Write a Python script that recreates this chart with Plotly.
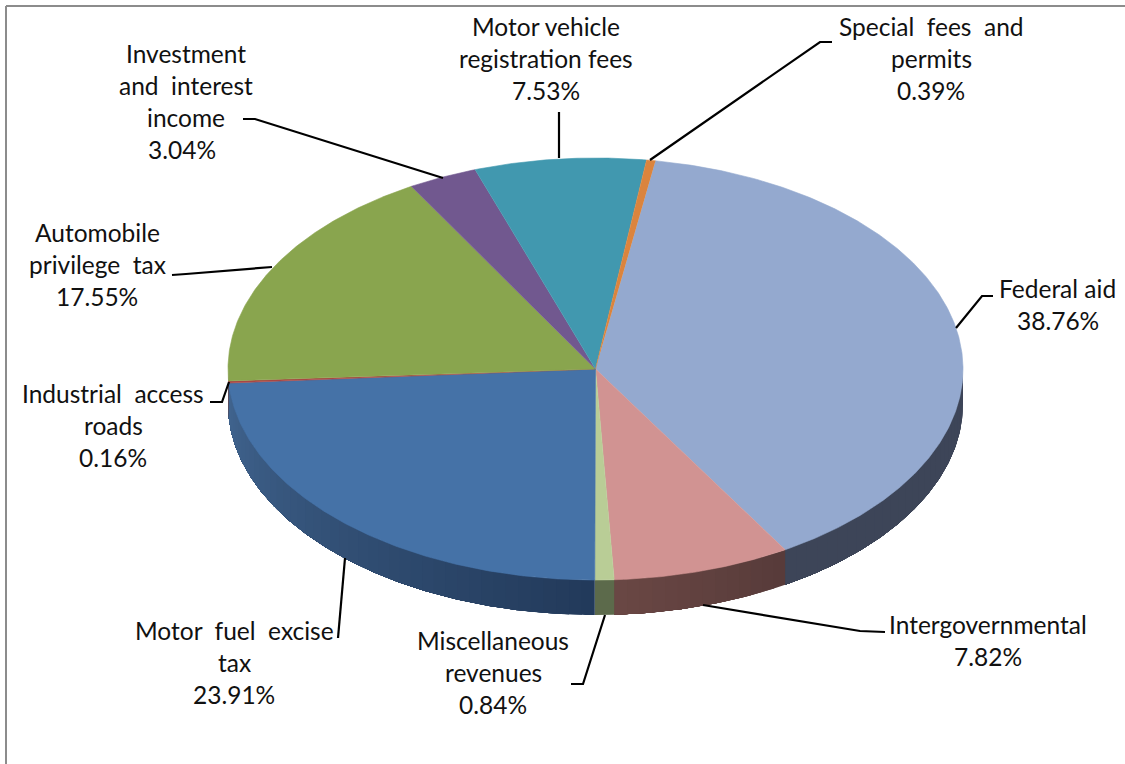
import math
import plotly.graph_objects as go

# ---- data ----
categories = ["Federal aid", "Intergovernmental", "Miscellaneous revenues", "Motor fuel excise tax",
              "Industrial access roads", "Automobile privilege tax", "Investment and interest income",
              "Motor vehicle registration fees", "Special fees and permits"]
values = [38.76, 7.82, 0.84, 23.91, 0.16, 17.55, 3.04, 7.53, 0.39]
percent_labels = ["38.76%", "7.82%", "0.84%", "23.91%", "0.16%", "17.55%", "3.04%", "7.53%", "0.39%"]
top_colors = ["#94A9CF", "#D19392", "#B9CD96", "#4572A7", "#AA4643", "#89A54E", "#71588F", "#4198AF", "#DB843D"]
# side colour at the slice start and end (clockwise)
side_start = ["#3D4558", "#573B3A", "#5C6A4B", "#223A5A", "#6B2E2C", "#6B4A50", "#4A3A5E", "#2A6372", "#8F5628"]
side_end = ["#3D4558", "#6A4744", "#5C6A4B", "#41648F", "#6B2E2C", "#6B4A50", "#4A3A5E", "#2A6372", "#8F5628"]

# label lines: text, x centre, y centre
label_lines = [
    ("Investment", 186, 54), ("and\u00a0\u00a0interest", 186, 86), ("income", 186, 118), ("3.04%", 182, 150),
    ("Motor vehicle", 546, 27), ("registration fees", 546, 59), ("7.53%", 546, 91),
    ("Special\u00a0\u00a0fees\u00a0\u00a0and", 931, 27), ("permits", 931, 59), ("0.39%", 931, 91),
    ("Federal aid", 1057, 289), ("38.76%", 1058, 321),
    ("Automobile", 97, 233), ("privilege\u00a0\u00a0tax", 97, 265), ("17.55%", 97, 297),
    ("Industrial\u00a0\u00a0access", 113, 394), ("roads", 113, 426), ("0.16%", 113, 458),
    ("Motor\u00a0\u00a0fuel\u00a0\u00a0excise", 234, 631), ("tax", 234, 663), ("23.91%", 234, 695),
    ("Miscellaneous", 493, 641), ("revenues", 493, 673), ("0.84%", 493, 705),
    ("Intergovernmental", 988, 625), ("7.82%", 988, 657),
]
leader_lines = [
    ([243, 255, 443], [119, 119, 178]),
    ([559, 559], [112, 158]),
    ([832, 820, 650], [42, 42, 160]),
    ([993, 982, 956], [296, 296, 328]),
    ([885, 860, 703], [632, 631, 605]),
    ([571, 583, 605], [684, 684, 615]),
    ([338, 345], [638, 558]),
    ([210, 222, 229], [402, 402, 382]),
    ([172, 186, 272], [275, 274, 267]),
]

# ---- geometry of the tilted pie ----
CX, CY, RX, RY, DEPTH = 595.5, 369, 367.5, 211, 35
START_DEG = 9.4


def pt(deg, dy=0):
    a = math.radians(deg)
    return CX + RX * math.sin(a), CY - RY * math.cos(a) + dy


def mix(c1, c2, t):
    p = [int(c1[i:i + 2], 16) for i in (1, 3, 5)]
    q = [int(c2[i:i + 2], 16) for i in (1, 3, 5)]
    return "#%02X%02X%02X" % tuple(round(a + (b - a) * t) for a, b in zip(p, q))


fig = go.Figure()
total = sum(values)
spans = []
a = START_DEG
for v in values:
    b = a + v / total * 360
    spans.append((a, b))
    a = b

# sides (front half only); each step paints to the slice end so no seams show
for (a, b), c0, c1 in zip(spans, side_start, side_end):
    lo, hi = max(a, 90), min(b, 270)
    if hi <= lo:
        continue
    n = max(1, int((hi - lo) / 2))
    for k in range(n):
        s = lo + (hi - lo) * k / n
        e = lo + (hi - lo) * (k + 1) / n
        m = max(2, int((hi - s) * 2))
        arc = [s + (hi - s) * j / m for j in range(m + 1)]
        pts = [pt(d) for d in arc] + [pt(d, DEPTH) for d in reversed(arc)]
        col = mix(c0, c1, ((s + e) / 2 - a) / (b - a))
        fig.add_trace(go.Scatter(x=[p[0] for p in pts], y=[p[1] for p in pts], mode="lines", fill="toself",
                                 fillcolor=col, line=dict(width=0), hoverinfo="skip", showlegend=False))

# top faces
for name, (a, b), col in zip(categories, spans, top_colors):
    n = max(2, int((b - a) * 2))
    pts = [(CX, CY)] + [pt(a + (b - a) * j / n) for j in range(n + 1)]
    fig.add_trace(go.Scatter(x=[p[0] for p in pts], y=[p[1] for p in pts], mode="lines", fill="toself", name=name,
                             fillcolor=col, line=dict(color=col, width=0.6), hoverinfo="name", showlegend=False))

# leader lines
for xs, ys in leader_lines:
    fig.add_trace(go.Scatter(x=xs, y=ys, mode="lines", line=dict(color="#000000", width=2.2),
                             hoverinfo="skip", showlegend=False))

for text, x, y in label_lines:
    fig.add_annotation(x=x, y=y - 1, text=text, showarrow=False, xanchor="center", yanchor="middle",
                       font=dict(family="Lato", size=24.5, color="#111111"))

# chart frame
fig.add_shape(type="line", x0=6, x1=6, y0=6, y1=764, line=dict(color="#8C8C8C", width=2))
fig.add_shape(type="line", x0=6, x1=1125, y0=6, y1=6, line=dict(color="#8C8C8C", width=2))

fig.update_layout(width=1125, height=764, margin=dict(l=0, r=0, t=0, b=0), paper_bgcolor="white",
                  plot_bgcolor="white", showlegend=False,
                  xaxis=dict(range=[0, 1125], visible=False, fixedrange=True),
                  yaxis=dict(range=[764, 0], visible=False, fixedrange=True))
fig.write_html("out.html", config={"displayModeBar": False},
               post_script="document.body.style.margin='0';document.body.style.overflow='hidden';")
